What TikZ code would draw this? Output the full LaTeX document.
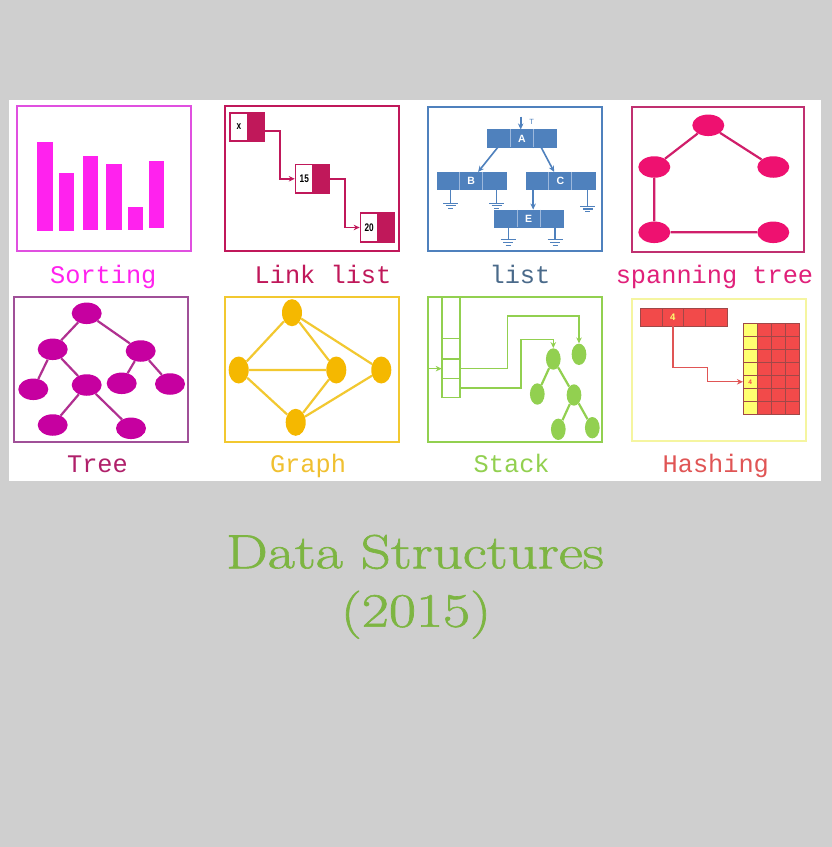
\documentclass[tikz,border=0pt]{standalone}
\usepackage{graphicx}
\usepackage{fontspec}
\newfontfamily\monof{Liberation Mono}
\newfontfamily\sansf{Liberation Sans}
\newfontfamily\titlef[FakeBold=1.2]{Latin Modern Roman}
\usetikzlibrary{shapes.geometric,arrows.meta,calc}
\definecolor{bgc}{RGB}{207,207,207}
\definecolor{sortc}{HTML}{FF22EE}
\definecolor{sortframe}{HTML}{E050E0}
\definecolor{linkc}{HTML}{C0185A}
\definecolor{listc}{HTML}{4F81BD}
\definecolor{listdiv}{HTML}{9DB8DC}
\definecolor{listlbl}{HTML}{4A6A8A}
\definecolor{spanc}{HTML}{EE1170}
\definecolor{spanedge}{HTML}{D01E6A}
\definecolor{spanframe}{HTML}{C03070}
\definecolor{spanlbl}{HTML}{E0207A}
\definecolor{treec}{HTML}{C600A0}
\definecolor{treeedge}{HTML}{B03090}
\definecolor{treeframe}{HTML}{A05098}
\definecolor{treelbl}{HTML}{B0206A}
\definecolor{graphc}{HTML}{F5B800}
\definecolor{graphframe}{HTML}{F2C830}
\definecolor{graphlbl}{HTML}{F0C030}
\definecolor{stackc}{HTML}{92D050}
\definecolor{hashred}{HTML}{F24A4A}
\definecolor{hashyel}{HTML}{FFFF70}
\definecolor{hashgrid}{HTML}{A04848}
\definecolor{hashframe}{HTML}{F5F5A0}
\definecolor{hashlbl}{HTML}{E05555}
\definecolor{titlec}{HTML}{7DB542}
\tikzset{
  frame/.style={draw, line width=1.7pt},
  edge/.style={line width=2.2pt},
  lbl/.style={font=\monof\fontsize{25.3}{26}\selectfont, anchor=base, inner sep=0},
  arr/.style={-{Stealth[length=6pt,width=5.5pt]}, line width=1.6pt},
  lw/.style={draw=linkc, line width=1.6pt, fill=white, minimum width=17.5, minimum height=28.5, inner sep=0, font=\sansf\bfseries\fontsize{11}{11}\selectfont},
  lr/.style={draw=linkc, line width=1.6pt, fill=linkc, minimum width=16.5, minimum height=28.5, inner sep=0},
  lnode/.style={rectangle, fill=listc, draw=listc, minimum width=69, minimum height=17.5, inner sep=0, text=white, font=\sansf\bfseries\fontsize{10.5}{10.5}\selectfont},
  divline/.style={draw=listdiv, line width=0.9pt},
  pics/gnd/.style={code={
    \draw[listc, line width=1.3pt] (0,0) -- (0,#1);
    \draw[listc, line width=1.1pt] (-7.5,#1) -- (7.5,#1) (-5,#1+2.6) -- (5,#1+2.6) (-2.5,#1+5.2) -- (2.5,#1+5.2);}},
  spnode/.style={ellipse, fill=spanc, inner sep=0, minimum width=32, minimum height=21.5},
  trnode/.style={ellipse, fill=treec, inner sep=0, minimum width=30, minimum height=21.5},
  grnode/.style={ellipse, fill=graphc, inner sep=0, minimum width=20, minimum height=27},
  stnode/.style={ellipse, fill=stackc, inner sep=0, minimum width=14.7, minimum height=21.4},
  stcell/.style={draw=stackc, line width=1.6pt, minimum width=18.3, inner sep=0, outer sep=0},
  hcell/.style={draw=hashgrid, line width=0.7pt, fill=hashred, minimum width=21.9, minimum height=17.7, inner sep=0, font=\sansf\bfseries\fontsize{9.5}{9.5}\selectfont, text=hashyel},
  tcell/.style={draw=hashgrid, line width=0.7pt, minimum width=14, minimum height=13, inner sep=0, font=\sansf\bfseries\fontsize{6.5}{6.5}\selectfont, text=hashred},
  title/.style={font=\titlef\fontsize{48}{50}\selectfont, text=titlec, anchor=base, inner sep=0}
}
\begin{document}
\begin{tikzpicture}[x=1pt,y=-1pt]
\fill[bgc] (0,0) rectangle (832,847);
\useasboundingbox (0,0) rectangle (832,847);
\fill[white] (9,100) rectangle (821,481);

% ---------- Sorting ----------
\draw[frame, sortframe] (17.3,106.3) rectangle (190.7,250.7);
\fill[sortc] (37.3,142.3) rectangle (52.7,230.7);
\fill[sortc] (59,173) rectangle (74.3,230.7);
\fill[sortc] (83,156.3) rectangle (98.3,230);
\fill[sortc] (106.3,163.7) rectangle (121.7,230);
\fill[sortc] (127.7,207) rectangle (143,230);
\fill[sortc] (149,161.3) rectangle (164.3,228);
\node[lbl, text=sortc] (l1) at (103.3,283) {Sorting};

% ---------- Link list ----------
\draw[frame, linkc] (224.7,106.3) rectangle (398.7,250.7);
\node[lw] (n1w) at (239,127) {\scalebox{0.75}[1]{x}};
\node[lr] (n1r) at (256,127) {};
\node[lw] (n2w) at (304.3,178.8) {\scalebox{0.75}[1]{15}};
\node[lr] (n2r) at (321.3,178.8) {};
\node[lw] (n3w) at (369.2,227.5) {\scalebox{0.75}[1]{20}};
\node[lr] (n3r) at (386.2,227.5) {};
\draw[arr, linkc] ([yshift=-3.7pt]n1r.east) -- (279.7,130.7) |- (n2w.west);
\draw[arr, linkc] (n2r.east) -- (344.7,178.8) |- (n3w.west);
\node[lbl, text=linkc] (l2) at (323,283) {Link list};

% ---------- list ----------
\draw[frame, listc] (428.3,107.3) rectangle (601.7,251.3);
\node[lnode] (A) at (521.85,138.4) {A};
\node[lnode] (B) at (471.2,180.85) {B};
\node[lnode] (C) at (560.35,180.85) {C};
\node[lnode] (E) at (528.65,218.5) {E};
\foreach \n in {A,B,C,E}{
  \draw[divline] ($(\n.north west)!1/3!(\n.north east)$) -- ($(\n.south west)!1/3!(\n.south east)$);
  \draw[divline] ($(\n.north west)!2/3!(\n.north east)$) -- ($(\n.south west)!2/3!(\n.south east)$);
}
\coordinate (Atop) at (520.7,116.5);
\draw[arr, listc] (Atop) -- (Atop |- A.north);
\node[font=\sansf\fontsize{7.5}{7.5}\selectfont, text=listc, inner sep=0] (tl) at (531.7,121.5) {T};
\draw[arr, listc] ($(A.south west)+(10.6,0)$) -- ($(B.north west)+(41.6,0)$);
\draw[arr, listc] ($(A.south west)+(54,0)$) -- ($(C.north west)+(28.5,0)$);
\coordinate (ce) at ($(C.south west)+(7.5,0)$);
\draw[arr, listc] (ce) -- (ce |- E.north);
\pic at ($(B.south west)+(14.3,0)$) {gnd=13.3};
\pic at ($(B.south west)+(60,0)$) {gnd=13.3};
\pic at ($(C.south east)+(-7.3,0)$) {gnd=16.6};
\pic at ($(E.south west)+(14.2,0)$) {gnd=12.4};
\pic at ($(E.south east)+(-8.3,0)$) {gnd=12.4};
\node[lbl, text=listlbl] (l3) at (520,283) {list};

% ---------- spanning tree ----------
\draw[frame, spanframe] (632.3,107.3) rectangle (804.3,252);
\node[spnode] (st) at (708.3,125.3) {};
\node[spnode] (sl) at (654.3,167) {};
\node[spnode] (sr) at (773.3,167) {};
\node[spnode] (sbl) at (654.3,232.3) {};
\node[spnode] (sbr) at (773.3,232.3) {};
\draw[spanedge, edge] (st) -- (sl) (st) -- (sr) (sl) -- (sbl) (sbl) -- (sbr);
\node[lbl, text=spanlbl] (l4) at (714.5,283) {spanning tree};

% ---------- Tree ----------
\draw[frame, treeframe] (14,296.7) rectangle (188.3,441.7);
\node[trnode] (r) at (86.7,313.3) {};
\node[trnode] (a) at (52.7,349.3) {};
\node[trnode] (b) at (140.7,351) {};
\node[trnode] (a1) at (33.3,389.3) {};
\node[trnode] (a2) at (86.7,385) {};
\node[trnode] (b1) at (121.7,383.3) {};
\node[trnode] (b2) at (170,384) {};
\node[trnode] (c1) at (52.7,425) {};
\node[trnode] (c2) at (131,428.3) {};
\draw[treeedge, edge] (r) -- (a) (r) -- (b) (a) -- (a1) (a) -- (a2) (b) -- (b1) (b) -- (b2) (a2) -- (c1) (a2) -- (c2);
\node[lbl, text=treelbl] (l5) at (97.5,472.3) {Tree};

% ---------- Graph ----------
\draw[frame, graphframe] (225.3,297.3) rectangle (399,441.7);
\node[grnode] (gt) at (292,312.7) {};
\node[grnode] (gl) at (238.7,370) {};
\node[grnode] (gm) at (336.3,370) {};
\node[grnode] (gr) at (381.3,370) {};
\node[grnode] (gb) at (295.7,422.3) {};
\draw[graphframe, edge] (gt) -- (gl) (gt) -- (gm) (gt) -- (gr) (gl) -- (gm) (gl) -- (gb) (gm) -- (gb) (gr) -- (gb);
\node[lbl, text=graphlbl] (l6) at (308,472.3) {Graph};

% ---------- Stack ----------
\draw[frame, stackc] (428.3,297.3) rectangle (601.7,441.7);
\node[stcell, minimum height=20.7] (s1) at (450.85,348.65) {};
\node[stcell, minimum height=19.3] (s2) at (450.85,368.65) {};
\node[stcell, minimum height=19] (s3) at (450.85,387.8) {};
\coordinate (ctop) at (450.85,297.3);
\draw[stackc, line width=1.6pt] (s1.north west) -- (s1.north west |- ctop) (s1.north east) -- (s1.north east |- ctop);
\node[stnode] (k1) at (553.3,359) {};
\node[stnode] (k0) at (579,354.3) {};
\node[stnode] (k2) at (537.3,394) {};
\node[stnode] (k3) at (574,395) {};
\node[stnode] (k4) at (558.3,429.3) {};
\node[stnode] (k5) at (592.3,427.7) {};
\draw[stackc, edge] (k1) -- (k2) (k1) -- (k3) (k3) -- (k4) (k3) -- (k5);
\coordinate (fl) at (428.3,368.65);
\draw[arr, stackc] (fl) -- (s2.west);
\draw[arr, stackc] (s2.east) -| (507.3,316) -| (k0.north);
\draw[arr, stackc] (s3.east) -| (520.7,339.3) -| (k1.north);
\node[lbl, text=stackc] (l7) at (511.7,472.3) {Stack};

% ---------- Hashing ----------
\draw[frame, hashframe, line width=2pt] (632.3,299.3) rectangle (805.7,440.7);
\node[hcell] (h1) at (650.95,317.15) {};
\node[hcell] (h2) at (672.85,317.15) {4};
\node[hcell] (h3) at (694.75,317.15) {};
\node[hcell] (h4) at (716.65,317.15) {};
\foreach \r in {1,...,7}{
  \foreach \c in {1,...,4}{
    \ifnum\c=1
      \node[tcell, fill=hashyel] (t-\r-\c) at ({743.3+14*(\c-1)+7},{323.3+13*(\r-1)+6.5}) {\ifnum\r=5 4\fi};
    \else
      \node[tcell, fill=hashred] (t-\r-\c) at ({743.3+14*(\c-1)+7},{323.3+13*(\r-1)+6.5}) {};
    \fi
  }
}
\draw[arr, hashlbl, line width=1.3pt] (h2.south) |- (707.3,367.7) |- (t-5-1.west);
\node[lbl, text=hashlbl] (l8) at (715.8,472.3) {Hashing};

% ---------- Title ----------
\node[title] (t1) at (415,568.3) {\scalebox{1.23}[1]{Data Structures}};
\node[title] (t2) at (416,626.7) {\scalebox{1.23}[1]{(2015)}};
\end{tikzpicture}
\end{document}
